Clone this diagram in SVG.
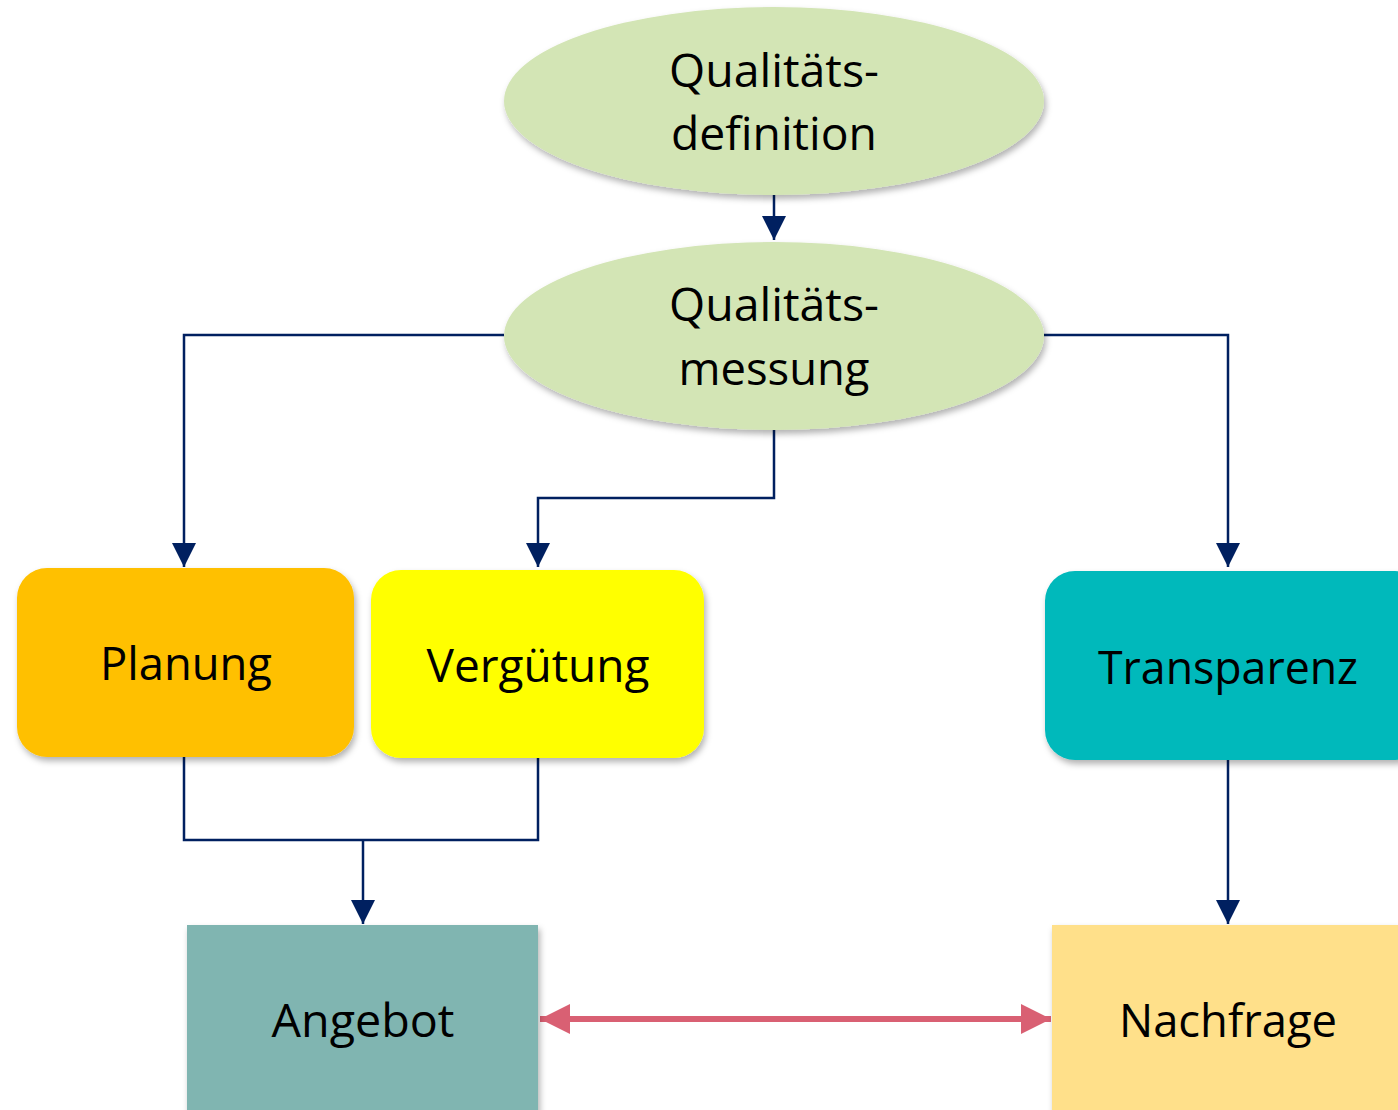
<svg xmlns="http://www.w3.org/2000/svg" width="1398" height="1110" viewBox="0 0 1398 1110">
<defs>
<filter id="sh" x="-10%" y="-10%" width="120%" height="130%">
<feDropShadow dx="2" dy="4" stdDeviation="3" flood-color="#000" flood-opacity="0.3"/>
</filter>
<marker id="ah" markerWidth="24" markerHeight="26" refX="24" refY="12" orient="auto" markerUnits="userSpaceOnUse" viewBox="0 0 24 24">
<path d="M0,0 L24,12 L0,24 Z" fill="#002060"/>
</marker>
<marker id="ph" markerWidth="30" markerHeight="32" refX="30" refY="15" orient="auto-start-reverse" markerUnits="userSpaceOnUse" viewBox="0 0 30 30">
<path d="M0,0 L30,15 L0,30 Z" fill="#D96073"/>
</marker>
<style>
text{font-family:"Open Sans","Noto Sans","Liberation Sans",sans-serif;font-size:46px;fill:#000;text-anchor:middle}
.c{fill:none;stroke:#002060;stroke-width:2.5}
</style>
</defs>
<rect width="1398" height="1110" fill="#fff"/>
<g id="connectors">
<path class="c" d="M774,195 V240" marker-end="url(#ah)"/>
<path class="c" d="M504,335 H184 V567" marker-end="url(#ah)"/>
<path class="c" d="M1044,335 H1228 V567" marker-end="url(#ah)"/>
<path class="c" d="M774,430 V498 H538 V567" marker-end="url(#ah)"/>
<path class="c" d="M184,757 V840 H538 V758"/>
<path class="c" d="M363,840 V924" marker-end="url(#ah)"/>
<path class="c" d="M1228,760 V924" marker-end="url(#ah)"/>
<path d="M540,1019 H1051" stroke="#D96073" stroke-width="6" fill="none" marker-start="url(#ph)" marker-end="url(#ph)"/>
</g>
<g id="qdef">
<ellipse cx="774" cy="101" rx="270" ry="94" fill="#D3E5B5" filter="url(#sh)"/>
<text x="774" y="87" textLength="210" lengthAdjust="spacingAndGlyphs">Qualitäts-</text>
<text x="774" y="150" textLength="206" lengthAdjust="spacingAndGlyphs">definition</text>
</g>
<g id="qmess">
<ellipse cx="774" cy="336" rx="270" ry="94" fill="#D3E5B5" filter="url(#sh)"/>
<text x="774" y="321" textLength="210" lengthAdjust="spacingAndGlyphs">Qualitäts-</text>
<text x="774" y="385" textLength="191" lengthAdjust="spacingAndGlyphs">messung</text>
</g>
<g id="planung">
<rect x="17" y="568" width="337" height="189" rx="30" fill="#FFC000" filter="url(#sh)"/>
<text x="186" y="680" textLength="172" lengthAdjust="spacingAndGlyphs">Planung</text>
</g>
<g id="verguetung">
<rect x="371" y="570" width="333" height="188" rx="30" fill="#FFFF00" filter="url(#sh)"/>
<text x="538" y="682" textLength="223" lengthAdjust="spacingAndGlyphs">Vergütung</text>
</g>
<g id="transparenz">
<rect x="1045" y="571" width="380" height="189" rx="30" fill="#00B9BB" filter="url(#sh)"/>
<text x="1228" y="684" textLength="260" lengthAdjust="spacingAndGlyphs">Transparenz</text>
</g>
<g id="angebot">
<rect x="187" y="925" width="351" height="200" fill="#80B5B1" filter="url(#sh)"/>
<text x="363" y="1037" textLength="183" lengthAdjust="spacingAndGlyphs">Angebot</text>
</g>
<g id="nachfrage">
<rect x="1052" y="925" width="360" height="200" fill="#FFE08A" filter="url(#sh)"/>
<text x="1228" y="1037" textLength="218" lengthAdjust="spacingAndGlyphs">Nachfrage</text>
</g>
</svg>
